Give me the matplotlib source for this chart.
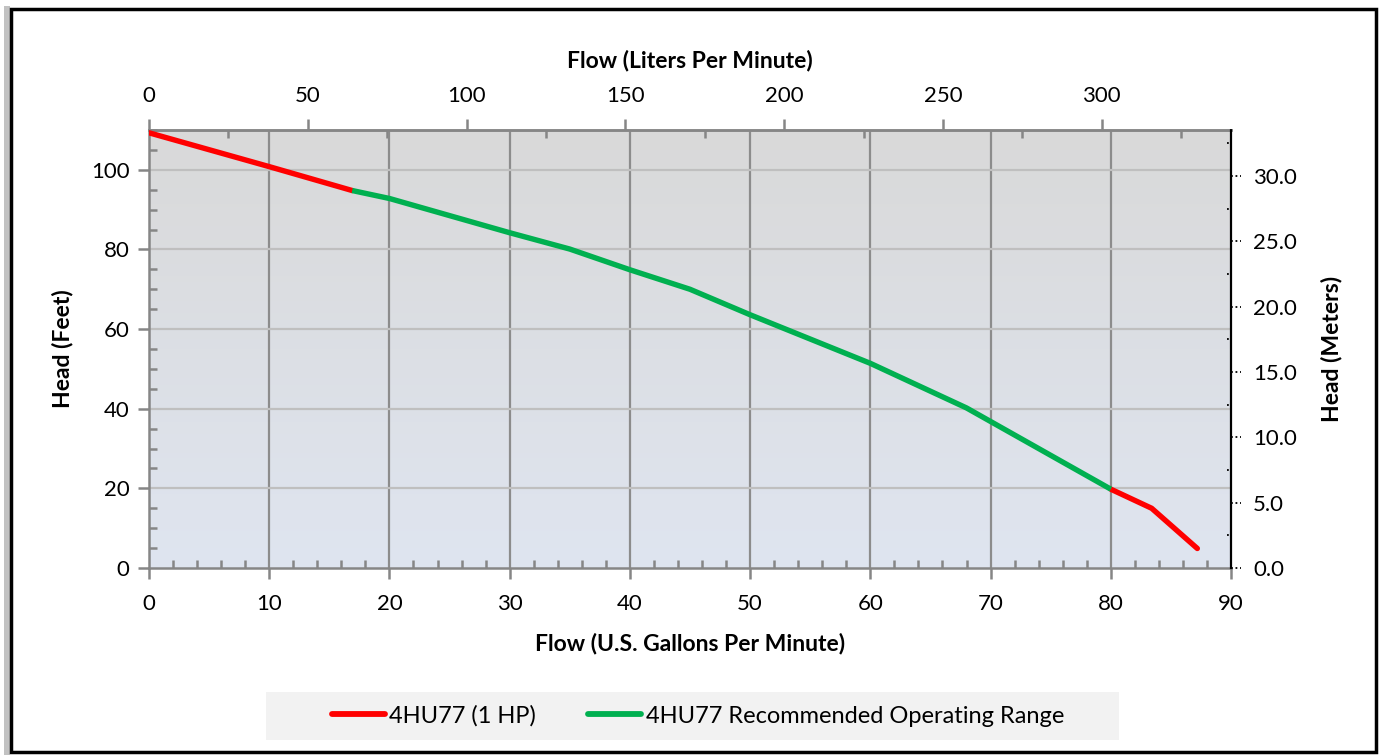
import numpy as np
import matplotlib
matplotlib.use('Agg')
import matplotlib.pyplot as plt
from matplotlib.patches import Rectangle
from matplotlib.lines import Line2D
import matplotlib.transforms as mtransforms

# pump curve (US gpm, head in feet)
gpm = [0, 10, 16.9, 20, 30, 35, 40, 45, 50, 60, 68, 70, 80, 83.4, 87.2]
head_ft = [109.3, 100.8, 94.8, 92.8, 84.2, 80.1, 74.9, 70.0, 63.6, 51.4, 40.2, 36.8, 19.8, 15.0, 4.9]
range_start, range_end = 2, 12   # indices where the recommended range begins / ends

lpm_ticks = [0, 50, 100, 150, 200, 250, 300]
m_ticks = [0, 5, 10, 15, 20, 25, 30]
series_names = ['4HU77 (1 HP)', '4HU77 Recommended Operating Range']

GPM2LPM = 3.78541
FT2M = 0.3048
RED = '#ff0000'
GREEN = '#00b050'

plt.rcParams['font.family'] = ['Lato', 'DejaVu Sans']

fig = plt.figure(figsize=(13.85, 7.55), dpi=100)
ax = fig.add_axes([149/1385, 1-568/755, (1231-149)/1385, (568-130)/755])

# gradient background of the plot area
grad = np.linspace(0, 1, 256).reshape(-1, 1)
top = np.array([217, 217, 217]) / 255
bot = np.array([223, 229, 240]) / 255
img = top + (bot - top) * grad[:, :, None]
ax.imshow(img, extent=[0, 90, 0, 110], aspect='auto', zorder=0, origin='upper')

ax.set_xlim(0, 90)
ax.set_ylim(0, 110)

# grid
for v in range(10, 90, 10):
    ax.axvline(v, color='#8c8c8c', lw=1.6, zorder=1)
for v in range(20, 110, 20):
    ax.axhline(v, color='#bfbfbf', lw=1.6, zorder=1)

x = np.array(gpm)
y = np.array(head_ft)
ax.plot(x[:range_start+1], y[:range_start+1], color=RED, lw=3.9, solid_capstyle='round',
        solid_joinstyle='round', zorder=3)
ax.plot(x[range_end:], y[range_end:], color=RED, lw=3.9, solid_capstyle='round',
        solid_joinstyle='round', zorder=3)
ax.plot(x[range_start:range_end+1], y[range_start:range_end+1], color=GREEN, lw=3.9,
        solid_capstyle='butt', solid_joinstyle='round', zorder=4)

# axes styling
for s in ['left', 'bottom', 'top']:
    ax.spines[s].set_color('#868686')
    ax.spines[s].set_linewidth(1.8)
ax.spines['right'].set_visible(False)

ax.set_xticks(range(0, 91, 10))
ax.set_xticks(np.arange(0, 91, 2), minor=True)
ax.set_yticks(range(0, 101, 20))
ax.set_yticks(np.arange(0, 111, 5), minor=True)
ax.tick_params(which='major', direction='out', length=8, width=1.8, color='#868686',
               labelsize=16, pad=6)
ax.tick_params(which='minor', direction='in', length=6, width=1.8, color='#868686')
ax.tick_params(axis='x', which='major', pad=11)

ax.set_xlabel('Flow (U.S. Gallons Per Minute)', fontsize=16.5, fontweight='bold', labelpad=13)
ax.set_ylabel('Head (Feet)', fontsize=16.5, fontweight='bold', labelpad=13)

# top axis in liters per minute
top_ax = ax.secondary_xaxis('top', functions=(lambda v: v*GPM2LPM, lambda v: v/GPM2LPM))
top_ax.set_xticks(lpm_ticks)
top_ax.set_xticks(np.arange(25, 330, 50), minor=True)
top_ax.spines['top'].set_color('#868686')
top_ax.spines['top'].set_linewidth(1.8)
top_ax.tick_params(which='major', direction='out', length=8, width=1.8, color='#868686',
                   labelsize=16, pad=9)
top_ax.tick_params(which='minor', direction='in', length=6, width=1.8, color='#868686')
top_ax.set_xlabel('Flow (Liters Per Minute)', fontsize=16.5, fontweight='bold', labelpad=14)

# right axis in meters, dotted spine and ticks like the original
right_ax = ax.twinx()
right_ax.set_ylim(0, 110*FT2M)
right_ax.set_yticks(m_ticks)
right_ax.set_yticklabels(['%.1f' % v for v in m_ticks])
right_ax.tick_params(axis='y', length=0, labelsize=16, pad=16)
for s in ['left', 'bottom', 'top']:
    right_ax.spines[s].set_visible(False)
right_ax.spines['right'].set_linestyle((0, (1, 1)))
right_ax.spines['right'].set_color('black')
right_ax.spines['right'].set_linewidth(1.6)
trans = mtransforms.blended_transform_factory(right_ax.transAxes, right_ax.transData)
for v in m_ticks:
    right_ax.plot([1.0, 1.009], [v, v], transform=trans, color='black', lw=1.3,
                  ls=(0, (1, 1.5)), clip_on=False)
for v in np.arange(2.5, 33, 5):
    right_ax.plot([0.996, 1.0], [v, v], transform=trans, color='black', lw=1.3,
                  ls=(0, (1, 1.5)), clip_on=False)
right_ax.set_ylabel('Head (Meters)', fontsize=16.5, fontweight='bold', rotation=90, labelpad=17)

# legend on a light gray box
fig.patches.append(Rectangle((266/1385, 1-740/755), (1119-266)/1385, 48/755,
                             transform=fig.transFigure, facecolor='#f2f2f2',
                             edgecolor='none', zorder=0))
handles = [Line2D([], [], color=RED, lw=4.2, solid_capstyle='round'),
           Line2D([], [], color=GREEN, lw=4.2, solid_capstyle='round')]
fig.legend(handles, series_names, loc='center', bbox_to_anchor=(698/1385, 1-716/755),
           ncol=2, frameon=False, handlelength=2.25, handletextpad=0.2,
           columnspacing=2.2, prop={'family': ['Lato', 'DejaVu Sans'], 'size': 17})

# outer border with shadow
fig.patches.append(Rectangle((4/1385, 0), 6/1385, 1-6/755, transform=fig.transFigure,
                             facecolor='#9a9a9a', edgecolor='none', alpha=0.6))
fig.patches.append(Rectangle((11/1385, 3/755), (1376-11)/1385, (746-3)/755,
                             transform=fig.transFigure, facecolor='none',
                             edgecolor='black', lw=2.5))

fig.savefig('out.png', dpi=100)
